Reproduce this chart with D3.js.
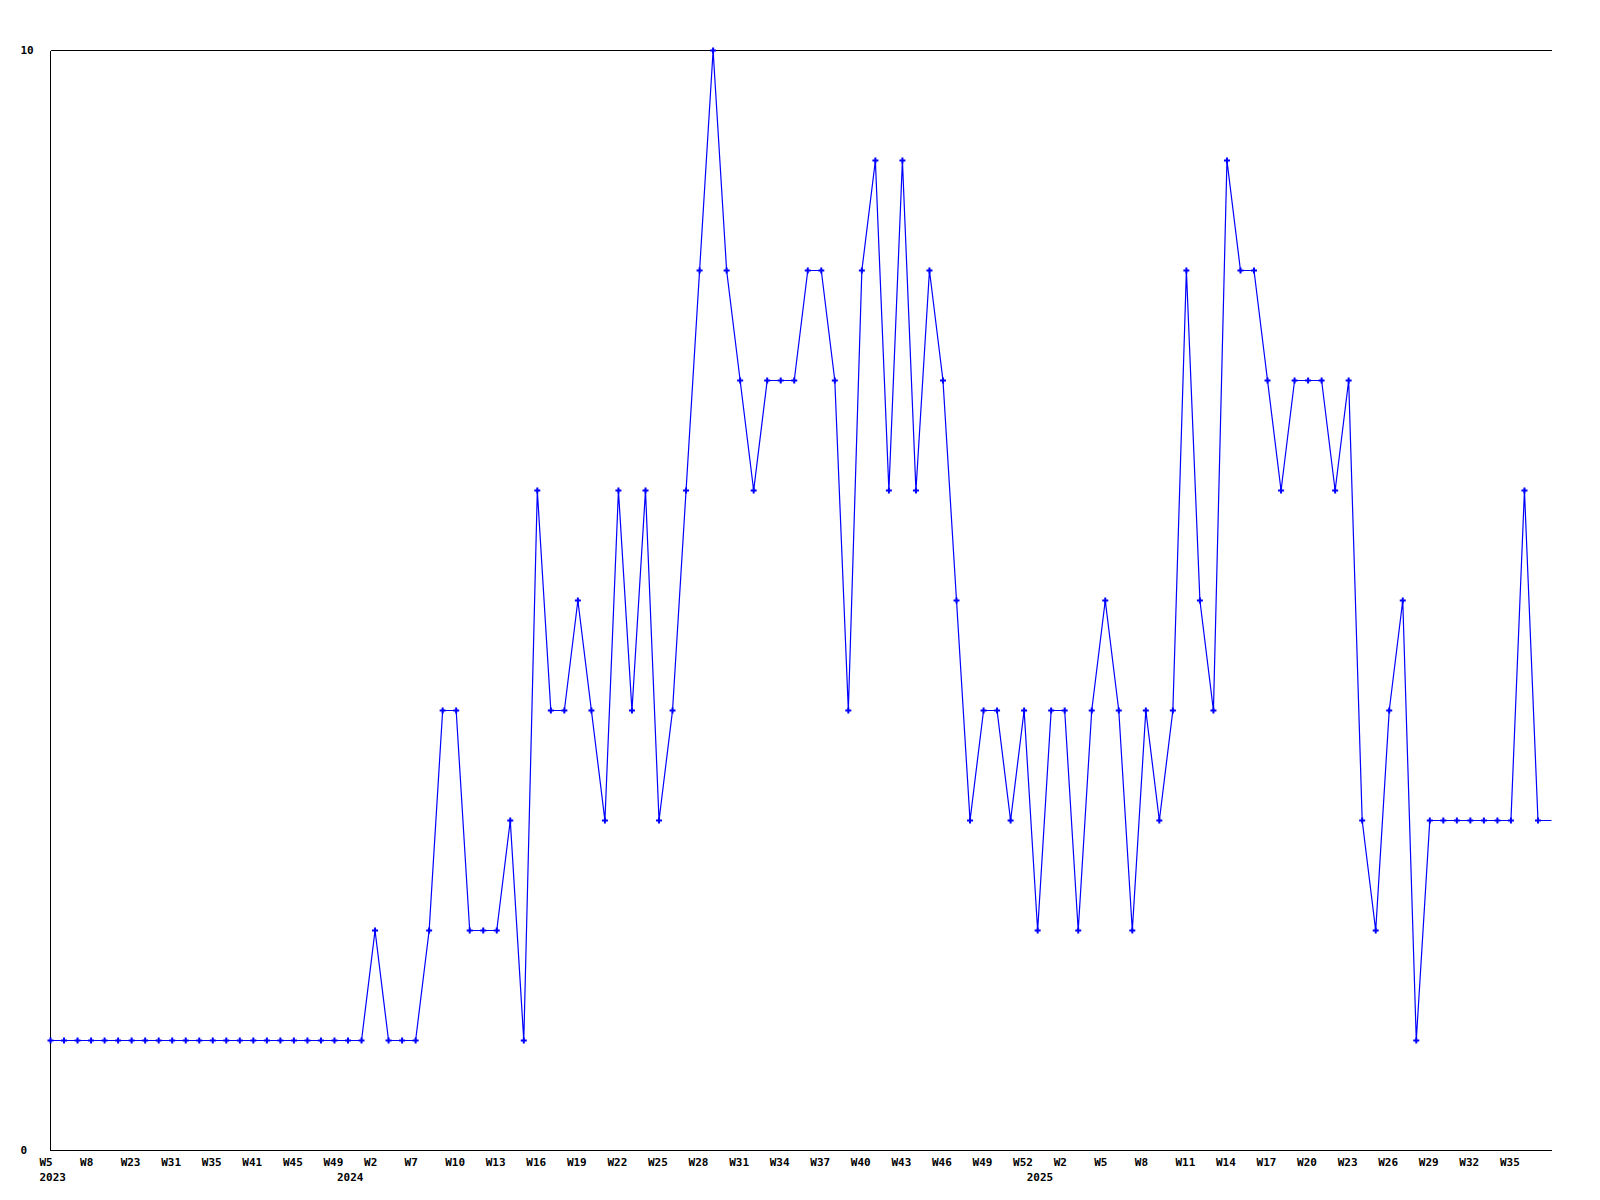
<!DOCTYPE html>
<html>
<head>
<meta charset="utf-8">
<script src="https://cdn.jsdelivr.net/npm/d3@7"></script>
<style>
  body { margin: 0; background: #fff; }
  text { font-family: "DejaVu Sans Mono", monospace; font-weight: bold; font-size: 11px; fill: #000; }
</style>
</head>
<body>
<div id="chart"></div>
<script>
// weekly counts, one per point (the last one only carries the line to the edge)
var counts = [
  1, 1, 1, 1, 1, 1, 1, 1, 1, 1, 1, 1, 1, 1, 1, 1, 1, 1, 1, 1, 1, 1, 1, 1,
  2, 1, 1, 1, 2, 4, 4, 2, 2, 2, 3, 1, 6, 4, 4, 5, 4, 3, 6, 4, 6, 3, 4, 6,
  8, 10, 8, 7, 6, 7, 7, 7, 8, 8, 7, 4, 8, 9, 6, 9, 6, 8, 7, 5, 3, 4, 4, 3,
  4, 2, 4, 4, 2, 4, 5, 4, 2, 4, 3, 4, 8, 5, 4, 9, 8, 8, 7, 6, 7, 7, 7, 6,
  7, 3, 2, 4, 5, 1, 3, 3, 3, 3, 3, 3, 3, 6, 3, 3
];

// week labels, every third point
var weekLabels = [
  "W5", "W8", "W23", "W31", "W35", "W41", "W45", "W49",
  "W2", "W7", "W10", "W13", "W16", "W19", "W22", "W25", "W28", "W31", "W34",
  "W37", "W40", "W43", "W46", "W49", "W52",
  "W2", "W5", "W8", "W11", "W14", "W17", "W20", "W23", "W26", "W29", "W32", "W35"
];
var weekStep = 3;

// year labels and the point where each year starts
var years = ["2023", "2024", "2025"];
var yearStart = [0, 22, 73];

var yTicks = [0, 10];

var svgWidth = 1600;
var svgHeight = 1200;

var margin = { top: 50, right: 49, bottom: 50, left: 50 };
var width = svgWidth - margin.left - margin.right;
var height = svgHeight - margin.top - margin.bottom;

var svg = d3.select("#chart")
  .append("svg")
  .attr("width", svgWidth)
  .attr("height", svgHeight);

var chartGroup = svg.append("g")
  .attr("transform", `translate(${margin.left + 0.5}, ${margin.top + 0.5})`);

var xScale = d3.scaleLinear()
  .domain([0, counts.length - 1])
  .range([0, width]);

var yScale = d3.scaleLinear()
  .domain([0, 10])
  .range([height, 0]);

// frame: left axis, bottom axis, top line
chartGroup.append("line")
  .attr("x1", 0).attr("x2", 0)
  .attr("y1", 0).attr("y2", height)
  .attr("stroke", "#000")
  .attr("shape-rendering", "crispEdges");

chartGroup.append("line")
  .attr("x1", 0).attr("x2", width)
  .attr("y1", height).attr("y2", height)
  .attr("stroke", "#000")
  .attr("shape-rendering", "crispEdges");

chartGroup.append("line")
  .attr("x1", 0).attr("x2", width)
  .attr("y1", 0).attr("y2", 0)
  .attr("stroke", "#000")
  .attr("shape-rendering", "crispEdges");

// y labels
chartGroup.selectAll(".ylab")
  .data(yTicks)
  .enter()
  .append("text")
  .attr("class", "ylab")
  .attr("x", -30)
  .attr("y", d => yScale(d))
  .attr("dy", "0.35em")
  .text(d => d);

// x labels
chartGroup.selectAll(".xlab")
  .data(weekLabels)
  .enter()
  .append("text")
  .attr("class", "xlab")
  .attr("x", (d, i) => xScale(i * weekStep) - 11)
  .attr("y", height + 12)
  .attr("dy", "0.35em")
  .text(d => d);

chartGroup.selectAll(".yearlab")
  .data(years)
  .enter()
  .append("text")
  .attr("class", "yearlab")
  .attr("x", (d, i) => xScale(yearStart[i]) - 11)
  .attr("y", height + 27)
  .attr("dy", "0.35em")
  .text(d => d);

// line
var line = d3.line()
  .x((d, i) => xScale(i))
  .y(d => yScale(d));

chartGroup.append("path")
  .datum(counts)
  .attr("fill", "none")
  .attr("stroke", "#0000ff")
  .attr("stroke-width", 1.2)
  .attr("d", line);

// markers
var marker = d3.symbol().type(d3.symbolCross).size(20);

chartGroup.selectAll(".pt")
  .data(counts.slice(0, counts.length - 1))
  .enter()
  .append("path")
  .attr("class", "pt")
  .attr("transform", (d, i) => `translate(${xScale(i)}, ${yScale(d)})`)
  .attr("d", marker)
  .attr("fill", "#0000ff");
</script>
</body>
</html>
